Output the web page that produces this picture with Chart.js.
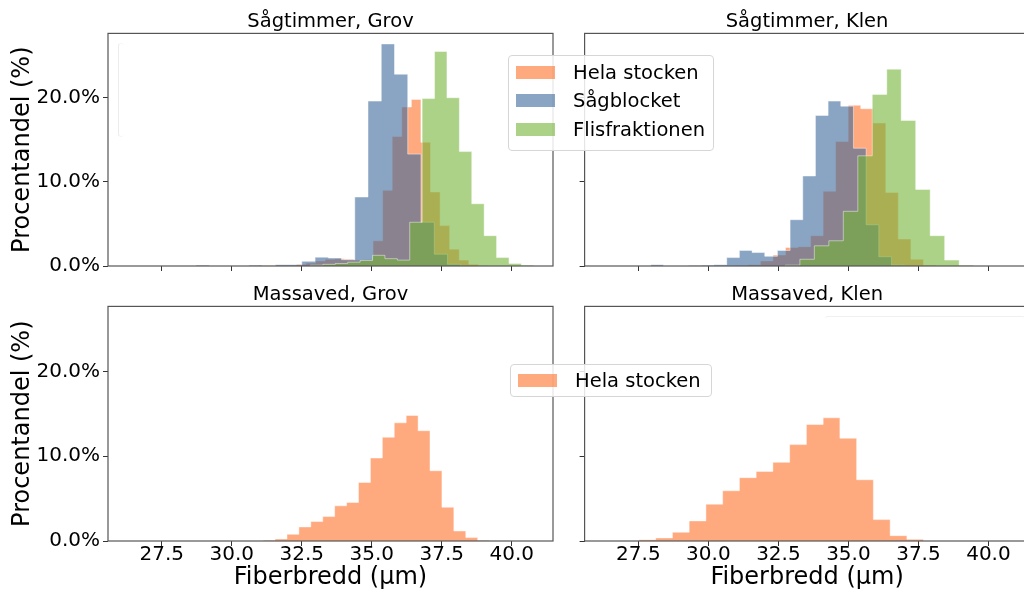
<!DOCTYPE html>
<html lang="sv">
<head>
<meta charset="UTF-8">
<title>Fiberbredd</title>
<script src="https://cdn.jsdelivr.net/npm/chart.js"></script>
<style>
    html, body {
        margin: 0;
        padding: 0;
        width: 1024px;
        height: 593px;
        overflow: hidden;
        background: #fff;
    }
    body {
        position: relative;
        font-family: "DejaVu Sans", sans-serif;
    }
    canvas {
        position: absolute;
    }
    /* legend boxes */
    .legend {
        position: absolute;
        box-sizing: border-box;
        border: 1px solid #d6d6d6;
        border-radius: 4px;
        background: rgba(255, 255, 255, 0.85);
        font-size: 19.5px;
        color: #000;
        z-index: 5;
    }
    .legend .row {
        position: absolute;
        left: 7px;
        height: 22px;
        display: flex;
        align-items: center;
        white-space: nowrap;
    }
    .legend .sw {
        width: 39px;
        height: 13px;
        margin-right: 18px;
    }
    /* empty, almost invisible legend frames */
    .ghost {
        position: absolute;
        box-sizing: border-box;
        border-radius: 4px;
        z-index: 4;
    }
</style>
</head>
<body>

<canvas id="tl" width="560" height="300" style="left:0px; top:0px;"></canvas>
<canvas id="tr" width="560" height="300" style="left:480px; top:0px;"></canvas>
<canvas id="bl" width="560" height="313" style="left:0px; top:280px;"></canvas>
<canvas id="br" width="560" height="313" style="left:480px; top:280px;"></canvas>

<div class="ghost" style="left:118px; top:43px; width:6px; height:94px; border-left:1px solid #ececec; border-top:1px solid #f7f7f7; border-bottom:1px solid #f7f7f7;"></div>
<div class="ghost" style="left:825px; top:316px; width:200px; height:6px; border-top:1px solid #f0f0f0;"></div>

<div class="legend" id="legTop" style="left:508px; top:55px; width:206px; height:96px;"></div>
<div class="legend" id="legBottom" style="left:510px; top:364px; width:202px; height:33px;"></div>

<script>
    // axes
    const xTicks = [27.5, 30.0, 32.5, 35.0, 37.5, 40.0];
    const yTicks = [0, 10, 20];
    const xRange = [25.58, 41.47];
    const yMax = 27.65;

    const seriesLabels = ['Hela stocken', 'Sågblocket', 'Flisfraktionen'];
    const seriesColors = ['rgba(255, 112, 40, 0.6)', 'rgba(60, 105, 155, 0.6)', 'rgba(115, 180, 55, 0.6)'];

    // Sågtimmer, Grov  (procent per bin)
    const grovHelaStart = 30.94, grovHelaBin = 0.342;
    const grovHela = [0.05, 0.05, 0.1, 0.1, 0.2, 0.35, 0.6, 0.8, 0.85, 0.8, 0.7, 0.75,
                      3.0, 9.0, 15.4, 18.9, 19.8, 14.7, 8.8, 4.8, 2.0, 0.7, 0.2, 0.05];
    const grovBlockStart = 28.72, grovBlockBin = 0.4727;
    const grovBlock = [0.1, 0, 0, 0, 0.1, 0, 0.15, 0.15, 0.55, 1.05, 0.95, 0.75,
                       8.2, 19.6, 26.4, 22.8, 13.3, 5.2, 1.4, 0.2];
    const grovFlisStart = 32.81, grovFlisBin = 0.443;
    const grovFlis = [0.1, 0.2, 0.3, 0.45, 0.65, 1.27, 0.87, 0.7, 5.2, 19.9,
                      25.5, 20.0, 13.6, 7.4, 3.6, 1.0, 0.3, 0.1];

    // Sågtimmer, Klen
    const klenHelaStart = 30.96, klenHelaBin = 0.448;
    const klenHela = [0.05, 0.15, 0.6, 1.3, 2.2, 2.3, 3.6, 8.9, 14.8, 19.1,
                      18.7, 17.0, 8.75, 3.2, 0.8, 0.1];
    const klenBlockStart = 27.94, klenBlockBin = 0.4525;
    const klenBlock = [0.15, 0, 0, 0.05, 0.1, 0.15, 1.0, 1.85, 1.6, 1.15,
                       1.85, 5.5, 10.7, 17.9, 19.6, 19.0, 14.0, 4.9, 1.1, 0.1];
    const klenFlisStart = 32.75, klenFlisBin = 0.517;
    const klenFlis = [0.1, 0.8, 2.4, 3.0, 6.5, 13.1, 20.4, 23.4, 17.3, 9.1, 3.6, 0.7, 0.1];

    // Massaved, Grov
    const massGrovStart = 31.12, massGrovBin = 0.4256;
    const massGrov = [0.08, 0.24, 0.79, 1.66, 2.29, 2.88, 4.14, 4.54, 6.9, 9.78,
                      12.23, 13.93, 14.79, 13.0, 8.28, 3.98, 1.18, 0.4, 0.08];

    // Massaved, Klen
    const massKlenStart = 27.52, massKlenBin = 0.598;
    const massKlen = [0.16, 0.36, 1.03, 2.37, 4.34, 5.92, 7.46, 8.2, 9.27, 11.36,
                      13.73, 14.52, 12.11, 7.22, 2.52, 0.63, 0.2];

    const FONT = '"DejaVu Sans", sans-serif';

    // histogram outline as step points
    function steps(start, bin, heights) {
        const pts = [{ x: start, y: 0 }];
        heights.forEach((h, i) => pts.push({ x: start + i * bin, y: h }));
        const end = start + heights.length * bin;
        pts.push({ x: end, y: heights[heights.length - 1] });
        pts.push({ x: end, y: 0 });
        return pts;
    }

    // box around the plot area
    const frame = {
        id: 'frame',
        afterDraw(chart) {
            const a = chart.chartArea;
            const c = chart.ctx;
            c.save();
            c.strokeStyle = '#555';
            c.lineWidth = 1.2;
            c.strokeRect(a.left, a.top, a.right - a.left, a.bottom - a.top);
            c.restore();
        }
    };

    function panel(id, title, series, p) {
        const datasets = series.map((s, i) => ({
            label: seriesLabels[s.idx],
            data: steps(s.start, s.bin, s.values),
            stepped: true,
            fill: 'origin',
            backgroundColor: seriesColors[s.idx],
            borderColor: 'rgba(255, 255, 255, 0.45)',
            borderWidth: 1,
            pointRadius: 0,
            order: series.length - i
        }));

        return new Chart(document.getElementById(id), {
            type: 'line',
            data: { datasets },
            options: {
                responsive: false,
                animation: false,
                devicePixelRatio: 1,
                layout: { padding: p.pad },
                plugins: {
                    legend: { display: false },
                    tooltip: { enabled: false },
                    title: {
                        display: true,
                        text: title,
                        fullSize: false,
                        color: '#000',
                        font: { family: FONT, size: 19.5, weight: 'normal' },
                        padding: { top: p.titleTop, bottom: 0 }
                    }
                },
                scales: {
                    x: {
                        type: 'linear',
                        min: xRange[0],
                        max: xRange[1],
                        afterBuildTicks: s => { s.ticks = xTicks.map(v => ({ value: v })); },
                        afterFit: s => { s.height = p.xh; },
                        border: { display: false },
                        grid: { drawOnChartArea: false, tickLength: 5, tickColor: '#333' },
                        ticks: {
                            display: p.bottom,
                            color: '#000',
                            padding: -1,
                            maxRotation: 0,
                            font: { family: FONT, size: 20, lineHeight: 1 },
                            callback: v => v.toFixed(1)
                        },
                        title: {
                            display: p.bottom,
                            text: 'Fiberbredd (µm)',
                            color: '#000',
                            font: { family: FONT, size: 24 },
                            padding: { top: 0, bottom: 1 }
                        }
                    },
                    y: {
                        min: 0,
                        max: yMax,
                        afterBuildTicks: s => { s.ticks = yTicks.map(v => ({ value: v })); },
                        afterFit: s => { s.width = p.yw; },
                        border: { display: false },
                        grid: { drawOnChartArea: false, tickLength: 5, tickColor: '#333' },
                        ticks: {
                            display: p.left,
                            color: '#000',
                            padding: 3,
                            font: { family: FONT, size: 20 },
                            callback: v => v.toFixed(1) + '%'
                        },
                        title: {
                            display: p.left,
                            text: 'Procentandel (%)',
                            color: '#000',
                            font: { family: FONT, size: 24 },
                            padding: { top: 8.6, bottom: 0 }
                        }
                    }
                }
            },
            plugins: [frame]
        });
    }

    const padLeftCol = { left: 0, right: 7 };
    const padRightCol = { left: 94.6, right: 10.4 };

    panel('tl', 'Sågtimmer, Grov', [
        { idx: 0, start: grovHelaStart, bin: grovHelaBin, values: grovHela },
        { idx: 1, start: grovBlockStart, bin: grovBlockBin, values: grovBlock },
        { idx: 2, start: grovFlisStart, bin: grovFlisBin, values: grovFlis }
    ], { pad: { ...padLeftCol, top: 0, bottom: 24 }, yw: 108, xh: 10, titleTop: 10, left: true, bottom: false });

    panel('tr', 'Sågtimmer, Klen', [
        { idx: 0, start: klenHelaStart, bin: klenHelaBin, values: klenHela },
        { idx: 1, start: klenBlockStart, bin: klenBlockBin, values: klenBlock },
        { idx: 2, start: klenFlisStart, bin: klenFlisBin, values: klenFlis }
    ], { pad: { ...padRightCol, top: 0, bottom: 24 }, yw: 10, xh: 10, titleTop: 10, left: false, bottom: false });

    panel('bl', 'Massaved, Grov', [
        { idx: 0, start: massGrovStart, bin: massGrovBin, values: massGrov }
    ], { pad: { ...padLeftCol, top: 0, bottom: 0 }, yw: 108, xh: 52, titleTop: 3, left: true, bottom: true });

    panel('br', 'Massaved, Klen', [
        { idx: 0, start: massKlenStart, bin: massKlenBin, values: massKlen }
    ], { pad: { ...padRightCol, top: 0, bottom: 0 }, yw: 10, xh: 52, titleTop: 3, left: false, bottom: true });

    // legends
    function fillLegend(id, count, firstCenter, gap) {
        const box = document.getElementById(id);
        for (let i = 0; i < count; i++) {
            const row = document.createElement('div');
            row.className = 'row';
            row.style.top = (firstCenter + i * gap - 12) + 'px';
            const sw = document.createElement('span');
            sw.className = 'sw';
            sw.style.background = seriesColors[i];
            const txt = document.createElement('span');
            txt.textContent = seriesLabels[i];
            row.appendChild(sw);
            row.appendChild(txt);
            box.appendChild(row);
        }
    }
    fillLegend('legTop', 3, 17, 28.5);
    fillLegend('legBottom', 1, 16, 28.5);
</script>
</body>
</html>
